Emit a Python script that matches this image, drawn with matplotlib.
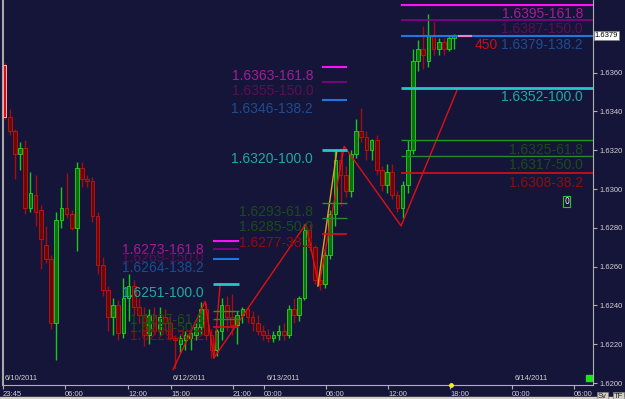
import matplotlib
matplotlib.use('Agg')
import matplotlib.pyplot as plt
import matplotlib.transforms as mtransforms
import numpy as np

# 30 minute bars, 6/10/2011 - 6/14/2011
opens = [1.6364, 1.6337, 1.6330, 1.6318, 1.6321, 1.6290, 1.6297, 1.6289, 1.6271, 1.6264,
         1.6231, 1.6284, 1.6290, 1.6287, 1.6280, 1.6311, 1.6305, 1.6304, 1.6286, 1.6261,
         1.6248, 1.6234, 1.6240, 1.6226, 1.6244, 1.6250, 1.6239, 1.6235, 1.6225, 1.6235,
         1.6227, 1.6234, 1.6231, 1.6223, 1.6220, 1.6222, 1.6223, 1.6225, 1.6229, 1.6238,
         1.6225, 1.6217, 1.6227, 1.6240, 1.6234, 1.6230, 1.6235, 1.6238, 1.6234, 1.6231,
         1.6227, 1.6225, 1.6223, 1.6225, 1.6227, 1.6225, 1.6238, 1.6235, 1.6244, 1.6279,
         1.6270, 1.6253, 1.6251, 1.6266, 1.6287, 1.6315, 1.6307, 1.6299, 1.6318, 1.6330,
         1.6327, 1.6320, 1.6325, 1.6310, 1.6302, 1.6309, 1.6297, 1.6290, 1.6302, 1.6320,
         1.6366, 1.6372, 1.6366, 1.6379, 1.6372, 1.6376, 1.6372, 1.6378]
highs = [1.6365, 1.6341, 1.6331, 1.6324, 1.6325, 1.6309, 1.6307, 1.6292, 1.6281, 1.6266,
         1.6288, 1.6301, 1.6308, 1.6289, 1.6314, 1.6314, 1.6307, 1.6306, 1.6288, 1.6265,
         1.6250, 1.6244, 1.6243, 1.6254, 1.6256, 1.6253, 1.6244, 1.6239, 1.6238, 1.6239,
         1.6239, 1.6238, 1.6234, 1.6225, 1.6225, 1.6227, 1.6227, 1.6231, 1.6242, 1.6241,
         1.6228, 1.6228, 1.6244, 1.6245, 1.6246, 1.6237, 1.6239, 1.6239, 1.6237, 1.6235,
         1.6230, 1.6228, 1.6227, 1.6230, 1.6231, 1.6240, 1.6244, 1.6245, 1.6282, 1.6282,
         1.6271, 1.6257, 1.6269, 1.6289, 1.6320, 1.6321, 1.6312, 1.6320, 1.6336, 1.6342,
         1.6330, 1.6326, 1.6328, 1.6312, 1.6313, 1.6313, 1.6299, 1.6304, 1.6325, 1.6372,
         1.6377, 1.6384, 1.6390, 1.6386, 1.6378, 1.6378, 1.6379, 1.6380]
lows = [1.6336, 1.6328, 1.6305, 1.6310, 1.6287, 1.6288, 1.6281, 1.6259, 1.6262, 1.6228,
        1.6212, 1.6280, 1.6285, 1.6279, 1.6268, 1.6301, 1.6301, 1.6283, 1.6256, 1.6245,
        1.6227, 1.6225, 1.6222, 1.6223, 1.6232, 1.6235, 1.6231, 1.6219, 1.6220, 1.6225,
        1.6225, 1.6227, 1.6222, 1.6207, 1.6216, 1.6217, 1.6217, 1.6222, 1.6225, 1.6222,
        1.6213, 1.6214, 1.6222, 1.6227, 1.6225, 1.6220, 1.6231, 1.6231, 1.6227, 1.6225,
        1.6222, 1.6221, 1.6221, 1.6222, 1.6222, 1.6223, 1.6231, 1.6232, 1.6243, 1.6268,
        1.6251, 1.6248, 1.6249, 1.6264, 1.6281, 1.6291, 1.6296, 1.6296, 1.6316, 1.6324,
        1.6315, 1.6315, 1.6307, 1.6299, 1.6298, 1.6295, 1.6288, 1.6285, 1.6298, 1.6318,
        1.6361, 1.6362, 1.6363, 1.6369, 1.6369, 1.6369, 1.6371, 1.6372]
closes = [1.6337, 1.6330, 1.6318, 1.6321, 1.6290, 1.6298, 1.6288, 1.6274, 1.6264, 1.6231,
          1.6284, 1.6290, 1.6287, 1.6280, 1.6311, 1.6305, 1.6304, 1.6286, 1.6261, 1.6248,
          1.6234, 1.6240, 1.6226, 1.6244, 1.6250, 1.6239, 1.6235, 1.6225, 1.6235, 1.6227,
          1.6234, 1.6231, 1.6223, 1.6222, 1.6223, 1.6225, 1.6226, 1.6229, 1.6238, 1.6225,
          1.6217, 1.6227, 1.6240, 1.6234, 1.6230, 1.6235, 1.6238, 1.6234, 1.6231, 1.6227,
          1.6225, 1.6223, 1.6225, 1.6227, 1.6225, 1.6238, 1.6235, 1.6244, 1.6279, 1.6270,
          1.6253, 1.6251, 1.6266, 1.6287, 1.6315, 1.6307, 1.6299, 1.6318, 1.6330, 1.6327,
          1.6320, 1.6325, 1.6310, 1.6302, 1.6309, 1.6297, 1.6290, 1.6302, 1.6320, 1.6366,
          1.6372, 1.6369, 1.6379, 1.6372, 1.6376, 1.6372, 1.6378, 1.6378]

time_pos = [-0.3, 11.7, 23.9, 32.2, 44.2, 50.2, 62.2, 74.2, 86.2, 98.2, 110.2]
time_labels = ['23:45', '06:00', '12:00', '15:00', '21:00', '00:00', '06:00',
               '12:00', '18:00', '00:00', '06:00']
date_pos = [-0.3, 32.2, 50.2, 98.2]
date_labels = ['6/10/2011', '6/12/2011', '6/13/2011', '6/14/2011']

# zigzag swing points (bar index, price)
zz_x = [32.6, 38.8, 40.5, 58.3, 60.8, 65.7, 76.7, 87.7]
zz_y = [1.6207, 1.6242, 1.6213, 1.6282, 1.6250, 1.6322, 1.6281, 1.6352]

# fibonacci projections
fib_pcts = ['161.8', '150.0', '138.2', '100.0', '61.8', '50.0', '38.2']
fib_left = [1.6273, 1.6269, 1.6264, 1.6251, 1.6237, 1.6233, 1.6229]
fib_mid = [1.6363, 1.6355, 1.6346, 1.6320, 1.6293, 1.6285, 1.6277]
fib_right = [1.6395, 1.6387, 1.6379, 1.6352, 1.6325, 1.6317, 1.6308]

last_price = 1.6379

bg = '#15153a'
line_cols = ['#ff10ff', '#8a008a', '#1e78e0', '#22c8c8', '#1f9a1f', '#2a8a2a', '#d81010']
text_cols = ['#a81a98', '#5a0f55', '#1c4c92', '#20a8a2', '#1a4c1a', '#1a4c1a', '#8c0e0e']
line_w = [1.5, 1.2, 1.5, 2.0, 1.0, 1.0, 1.2]

fig = plt.figure(figsize=(6.25, 3.99), dpi=100, facecolor=bg)
ax = fig.add_axes([3/625, 14/399, 590/625, 385/399])
ax.set_facecolor(bg)

o = np.array(opens); h = np.array(highs); l = np.array(lows); c = np.array(closes)
x = np.arange(len(o))
up = c >= o

ax.vlines(x[up], l[up], h[up], colors='#18c818', lw=1, zorder=2)
ax.vlines(x[~up], l[~up], h[~up], colors='#a80c0c', lw=1, zorder=2)
body = np.maximum(np.abs(c - o), 0.00006)
ax.bar(x[up], body[up], bottom=o[up], width=0.7, color='#0c700c',
       edgecolor='#22d822', lw=0.6, zorder=3)
ax.bar(x[~up], body[~up], bottom=c[~up], width=0.7, color='#6e0606',
       edgecolor='#c81414', lw=0.6, zorder=3)
# first bar highlighted
ax.bar(x[0], o[0] - c[0], bottom=c[0], width=0.55, color='#d01010',
       edgecolor='#ffc8c8', lw=0.6, zorder=4)

# zigzag
ax.plot(zz_x, zz_y, color='#e01010', lw=1, zorder=5)
ax.plot([zz_x[2], 41.7], [zz_y[2], fib_left[3]], color='#e01010', lw=1, zorder=5)
ax.plot([60.6, 64.3], [zz_y[4], fib_mid[3]], color='#e8a020', lw=1, zorder=5)

# fib levels
groups = [(fib_left, 40.3, 45.4, 38.6), (fib_mid, 61.4, 66.2, 59.7),
          (fib_right, 76.7, 114.0, 111.9)]
for levels, x0, x1, xt in groups:
    for i, lev in enumerate(levels):
        ax.hlines(lev, x0, x1, colors=line_cols[i], lw=line_w[i], zorder=6)
        ax.annotate('%.4f-%s' % (lev, fib_pcts[i]), xy=(xt, lev), xytext=(0, -1.5),
                    textcoords='offset points', ha='right', va='top',
                    color=text_cols[i], fontsize=10, family='Liberation Sans', zorder=7)

# current price marker
ax.hlines(last_price, 87.8, 90.5, colors='#f080c8', lw=1.5, zorder=6)
ax.annotate('450', xy=(91.0, last_price), xytext=(0, -1.5), textcoords='offset points',
            ha='left', va='top', color='#c81010', fontsize=10, family='Liberation Sans')

ax.set_xlim(-0.29, 113.83)
ax.set_ylim(1.61990, 1.63974)

# axes styling
ax.spines['top'].set_visible(False)
ax.spines['right'].set_color('#b0b0b0')
ax.spines['bottom'].set_color('#b0b0b0')
ax.spines['left'].set_color('#a8a8a8')
ax.spines['left'].set_linewidth(1.5)

ax.yaxis.tick_right()
yt = np.arange(1.6200, 1.63601, 0.0020)
ax.set_yticks(yt)
ax.set_yticklabels(['%.4f' % v for v in yt])
ax.tick_params(axis='y', colors='#b0b0b0', labelcolor='#d0d0d0', length=3,
               labelsize=5.5, pad=2)
ax.set_xticks(time_pos)
ax.set_xticklabels(time_labels, ha='left')
ax.tick_params(axis='x', colors='#b0b0b0', labelcolor='#d0d0d0', length=3,
               labelsize=5.5, pad=1)
for t in ax.get_yticklabels() + ax.get_xticklabels():
    t.set_family('Liberation Sans')

for p, d in zip(date_pos, date_labels):
    ax.text(p + 0.4, 1.62003, d, color='#d0d0d0', fontsize=5.5,
            family='Liberation Sans', va='bottom', ha='left')

trans = mtransforms.blended_transform_factory(ax.transAxes, ax.transData)
ax.text(1.003, last_price, '1.6379', transform=trans, fontsize=5.5, color='black',
        family='Liberation Sans', va='center', ha='left',
        bbox=dict(boxstyle='square,pad=0.15', fc='white', ec='#808080', lw=0.5))
ax.text(0.955, 1.62935, '0', transform=trans, fontsize=5.5, color='white',
        va='center', ha='center',
        bbox=dict(boxstyle='square,pad=0.15', fc=bg, ec='#30c030', lw=0.8))
ax.plot([0.994], [1.62025], marker='s', ms=5, color='#20e020', transform=trans,
        clip_on=False)
ax.plot([86.4], [1.61990], marker='o', ms=2.5, color='#f0f020', clip_on=False, zorder=8)

fig.text(0.957, 0.003, 'Sv', fontsize=5.5, color='#202020', family='Liberation Sans',
         bbox=dict(boxstyle='square,pad=0.15', fc='#d4d0c8', ec='#808080', lw=0.5))
fig.text(0.982, 0.003, 'TF', fontsize=5.5, color='#202020', family='Liberation Sans',
         bbox=dict(boxstyle='square,pad=0.15', fc='#d4d0c8', ec='#808080', lw=0.5))
fig.patches.append(plt.Rectangle((0, 0), 1, 2/399, transform=fig.transFigure,
                                 color='#d4d0c8', zorder=0))

plt.savefig('out.png', dpi=100, facecolor=bg)
